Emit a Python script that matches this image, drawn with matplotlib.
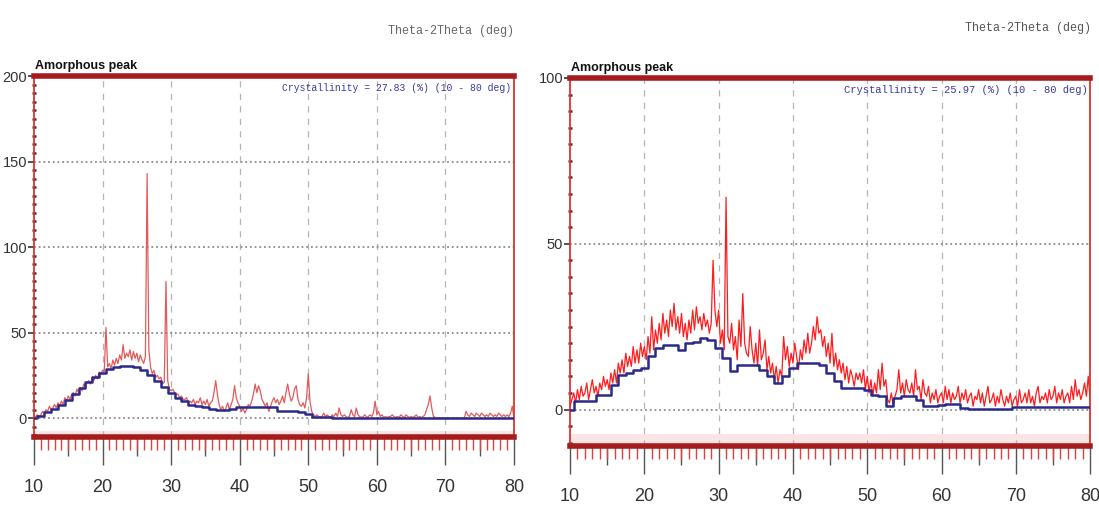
import numpy as np
import matplotlib.pyplot as plt
from matplotlib.ticker import MultipleLocator, FixedLocator, NullFormatter

# 2-theta grid of the scans (deg), one row per degree below
two_theta = np.arange(10, 80.001, 0.25)

# measured pattern, left sample (cps)
raw_left = [
    0, 1, 2, 1,        # 10
    2, 4, 3, 5,        # 11
    4, 7, 5, 6,
    8, 6, 9, 7,
    10, 8, 12, 10,
    13, 11, 14, 15,    # 15
    13, 17, 15, 18,
    16, 20, 18, 21,
    22, 20, 24, 22,
    25, 23, 27, 26,
    28, 27, 53, 30,    # 20
    32, 29, 34, 31,
    35, 32, 37, 34,
    43, 35, 38, 36,
    40, 34, 39, 35,
    38, 33, 37, 34,    # 25
    32, 36, 143, 40,
    30, 26, 28, 24,
    25, 23, 24, 20,
    21, 80, 22, 17,
    16, 17, 15, 14,    # 30
    14, 12, 13, 11,
    11, 12, 9, 10,
    9, 11, 8, 10,
    9, 12, 8, 10,
    8, 11, 7, 9,       # 35
    10, 15, 22, 14,
    8, 5, 7, 4,
    6, 9, 5, 8,
    11, 19, 12, 9,
    7, 4, 6, 3,        # 40
    5, 8, 7, 10,
    14, 20, 15, 19,
    16, 11, 9, 7,
    9, 4, 7, 10,
    12, 9, 11, 8,      # 45
    10, 13, 9, 15,
    20, 14, 10, 12,
    17, 19, 11, 8,
    7, 9, 6, 12,
    26, 10, 4, 2,      # 50
    1, 2, 1, 0.5,
    1, 3, 1, 2,
    1, 0.5, 2, 1,
    3, 1, 6, 2,
    1, 2, 1, 0.5,      # 55
    1, 5, 2, 1,
    6, 2, 1, 0.5,
    1, 2, 0.5, 1,
    2, 1, 3, 10,
    2, 4, 1, 2,        # 60
    0.5, 1, 0.5, 1,
    1, 2, 1, 0.5,
    1, 0.5, 2, 1,
    0.5, 2, 1, 0.5,
    1, 0.5, 1, 2,      # 65
    0.5, 1, 0.5, 1,
    2, 5, 8, 13,
    6, 1, 0.5, 0,
    0, 0, 0, 0,
    0, 0, 0, 0,        # 70
    0, 0, 0, 0,
    0, 0, 0, 0,
    4, 2, 1, 3,
    2, 1, 3, 2,
    1, 3, 2, 1,        # 75
    2, 1, 3, 2,
    1, 2, 1, 3,
    2, 1, 2, 1,
    2, 1, 3, 7,
    0,                 # 80
]

# measured pattern, right sample (cps)
raw_right = [
    1, 3, 5, 2,        # 10
    6, 3, 7, 4,
    5, 8, 3, 6,
    9, 5, 7, 4,
    8, 6, 10, 7,
    9, 6, 11, 8,       # 15
    12, 8, 14, 11,
    15, 11, 17, 13,
    16, 13, 19, 14,
    18, 14, 20, 16,
    19, 15, 22, 17,    # 20
    28, 18, 24, 20,
    26, 21, 29, 23,
    27, 22, 30, 25,
    32, 24, 28, 23,
    29, 22, 26, 21,    # 25
    27, 23, 30, 24,
    31, 26, 28, 24,
    29, 25, 27, 23,
    26, 45, 30, 25,
    30, 20, 24, 18,    # 30
    64, 22, 20, 26,
    18, 22, 15, 27,
    19, 35, 20, 17,
    16, 25, 18, 14,
    20, 13, 24, 15,    # 35
    17, 21, 12, 16,
    11, 14, 9, 13,
    8, 12, 10, 22,
    15, 19, 13, 17,
    14, 20, 16, 12,    # 40
    18, 15, 21, 17,
    23, 17, 20, 25,
    21, 28, 23, 24,
    19, 22, 16, 20,
    14, 23, 13, 17,    # 45
    12, 15, 11, 14,
    9, 13, 8, 12,
    10, 7, 11, 9,
    11, 8, 12, 6,
    10, 5, 9, 4,       # 50
    8, 5, 12, 6,
    14, 7, 9, 3,
    2, 5, 1, 4,
    6, 12, 5, 8,
    4, 9, 6, 5,        # 55
    8, 4, 12, 6,
    7, 3, 9, 5,
    4, 7, 2, 5,
    3, 6, 2, 4,
    5, 2, 7, 3,        # 60
    6, 2, 5, 3,
    4, 7, 2, 5,
    3, 6, 2, 4,
    5, 1, 4, 3,
    6, 2, 5, 1,        # 65
    4, 7, 2, 3,
    5, 1, 4, 2,
    6, 3, 1, 4,
    2, 5, 1, 3,
    4, 1, 6, 2,        # 70
    3, 5, 2, 6,
    2, 4, 1, 5,
    7, 2, 4, 3,
    5, 2, 6, 3,
    4, 7, 2, 5,        # 75
    3, 6, 2, 4,
    5, 2, 7, 3,
    9, 4, 6, 3,
    5, 8, 4, 10,
    3,                 # 80
]

# fitted amorphous hump, one value per degree 10..80
amorph_theta = np.arange(10, 81, 1)
amorph_left = [
    0, 1.5, 3.5, 5.5, 8, 10.5, 14, 17.5, 21, 24,
    26.5, 28.5, 30, 30.5, 30.5, 30, 28, 25, 21.5, 18,
    15, 12, 10, 8, 7, 6.5, 5.5, 5, 5, 5.5,
    6.5, 6.5, 6.5, 6.5, 6.5, 6.5, 4, 4, 4, 3.5,
    2.5, 1, 1, 0.5, 0, 0, 0, 0, 0, 0,
    0, 0, 0, 0, 0, 0, 0, 0, 0, 0,
    0, 0, 0, 0, 0, 0, 0, 0, 0, 0,
    0,
]
amorph_right = [
    0, 2.5, 2.5, 2.5, 4.5, 4.5, 7.5, 10.5, 11, 12,
    12.5, 16, 18.5, 19.5, 19.5, 18, 20, 20.5, 21.5, 21,
    18.5, 15.5, 11.5, 13.5, 13.5, 13.5, 12, 10, 8, 10,
    12.5, 14, 14, 14, 13.5, 11, 8.5, 6.5, 6.5, 6.5,
    6, 4.5, 4, 1, 3.5, 4, 4, 3, 1.2, 1.2,
    1.5, 1.7, 1.7, 0.5, 0.2, 0.2, 0.2, 0.2, 0.2, 0.2,
    0.7, 0.7, 0.7, 0.7, 0.7, 0.7, 0.7, 0.7, 0.7, 0.7,
    0.7,
]

crystallinity = [27.83, 25.97]
y_tops = [200, 100]

sans = ['Liberation Sans', 'DejaVu Sans']
mono = ['Liberation Mono', 'DejaVu Sans Mono']

fig = plt.figure(figsize=(10.99, 5.16), dpi=100)
ax_l = fig.add_axes([0.0309, 0.153, 0.4368, 0.6996])
ax_r = fig.add_axes([0.5187, 0.1357, 0.4732, 0.7132])

panels = [
    (ax_l, raw_left, amorph_left, '#e35a5a', 0, 7.0),
    (ax_r, raw_right, amorph_right, '#ff1c1c', 1, 7.6),
]

for ax, raw, amorph, red, i, cfs in panels:
    top = y_tops[i]
    ax.set_xlim(10, 80)
    ax.set_ylim(-11, top)

    # pale band above the bottom frame
    ax.axhspan(-11, -7.5, color='#fbe4e4', lw=0, zorder=0)

    # grid
    for gx in range(20, 80, 10):
        ax.axvline(gx, color='#b5b5b5', lw=0.9, ls=(0, (5, 5)), zorder=1)
    for gy in range(0, top, 50):
        ax.axhline(gy, color='#8c8c8c', lw=1.3, ls=(0, (1, 1.6)), zorder=1)

    ax.plot(two_theta, raw, color=red, lw=0.9, zorder=2)
    ax.plot(amorph_theta, amorph, color='#2b2a8a', lw=1.8,
            drawstyle='steps-mid', zorder=3)

    # frame
    for s in ['left', 'right']:
        ax.spines[s].set_color('#e23030')
        ax.spines[s].set_linewidth(1.3)
    for s in ['top', 'bottom']:
        ax.spines[s].set_color('#a61c1c')
        ax.spines[s].set_linewidth(4)

    # x ticks
    ax.xaxis.set_major_locator(MultipleLocator(10))
    ax.xaxis.set_minor_locator(MultipleLocator(1))
    ax.tick_params(axis='x', which='major', direction='out', length=20,
                   width=1.0, color='#555555', pad=10, labelsize=13)
    ax.tick_params(axis='x', which='minor', direction='out', length=9,
                   width=1.0, color='#e04040')
    sec = ax.secondary_xaxis('bottom')
    sec.xaxis.set_major_locator(FixedLocator(np.arange(15, 80, 10)))
    sec.xaxis.set_major_formatter(NullFormatter())
    sec.tick_params(direction='out', length=14, width=1.0, color='#555555')
    sec.spines['bottom'].set_visible(False)

    # y ticks
    ax.yaxis.set_major_locator(MultipleLocator(50))
    ax.yaxis.set_minor_locator(MultipleLocator(5))
    ax.tick_params(axis='y', which='major', direction='out', length=4,
                   width=1.2, color='#333333', pad=1, labelsize=10.5)
    ax.tick_params(axis='y', which='minor', direction='inout', length=3,
                   width=1.8, color='#333333')

    for lab in ax.get_xticklabels() + ax.get_yticklabels():
        lab.set_family(sans)
        lab.set_color('#333333')

    ax.text(0.995, 0.982,
            'Crystallinity = %.2f (%%) (10 - 80 deg)' % crystallinity[i],
            transform=ax.transAxes, ha='right', va='top', color='#3a3a9e',
            fontsize=cfs, family=mono)
    ax.text(0.002, 1.012, 'Amorphous peak', transform=ax.transAxes,
            ha='left', va='bottom', fontsize=9, fontweight='bold',
            family=sans, color='#111111')

fig.text(0.4675, 0.94, 'Theta-2Theta (deg)', ha='right', va='center',
         fontsize=8.5, family=mono, color='#666666')
fig.text(0.993, 0.945, 'Theta-2Theta (deg)', ha='right', va='center',
         fontsize=8.5, family=mono, color='#555555')

fig.savefig('out.png', dpi=100)
